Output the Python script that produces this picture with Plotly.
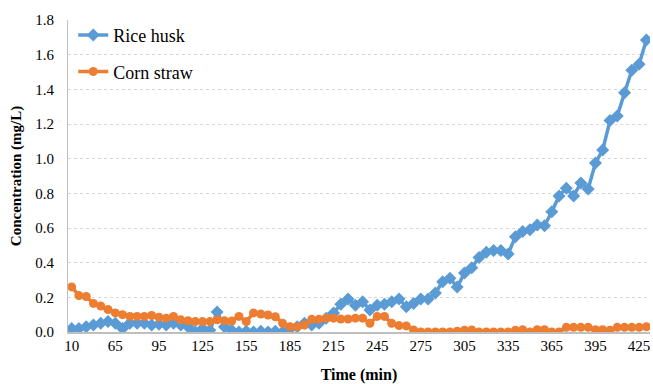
import plotly.graph_objects as go

# Sampling times (min); axis labels every sixth sample
time_min = [10, 20, 30, 40, 50, 60] + list(range(65, 431, 5))
tick_labels = ["10", "65", "95", "125", "155", "185", "215", "245",
               "275", "305", "335", "365", "395", "425"]

rice_husk = [
    0.02, 0.02, 0.03, 0.04, 0.05, 0.06, 0.05, 0.02, 0.05, 0.05,
    0.05, 0.04, 0.045, 0.04, 0.05, 0.04, 0.03, 0.0, 0.02, 0.01,
    0.115, 0.03, 0.01, 0.0, 0.005, 0.0, 0.005, 0.0, 0.005, 0.0,
    0.017, 0.03, 0.05, 0.04, 0.05, 0.08, 0.11, 0.16, 0.19, 0.155,
    0.175, 0.127, 0.155, 0.16, 0.175, 0.19, 0.146, 0.165, 0.19, 0.19,
    0.225, 0.29, 0.31, 0.26, 0.34, 0.37, 0.43, 0.46, 0.47, 0.47,
    0.45, 0.55, 0.58, 0.59, 0.617, 0.613, 0.694, 0.785, 0.83, 0.785,
    0.86, 0.825, 0.975, 1.05, 1.22, 1.246, 1.38, 1.51, 1.545, 1.685,
]

corn_straw = [
    0.26, 0.21, 0.205, 0.165, 0.15, 0.13, 0.11, 0.10, 0.09, 0.09,
    0.09, 0.095, 0.085, 0.08, 0.09, 0.07, 0.065, 0.06, 0.06, 0.06,
    0.07, 0.065, 0.063, 0.09, 0.06, 0.11, 0.104, 0.098, 0.088, 0.05,
    0.03, 0.03, 0.04, 0.073, 0.073, 0.08, 0.08, 0.075, 0.075, 0.08,
    0.08, 0.05, 0.09, 0.09, 0.05, 0.037, 0.035, 0.012, 0.0, 0.0,
    0.0, 0.0, 0.0, 0.005, 0.01, 0.012, 0.0, 0.0, 0.0, 0.0,
    0.0, 0.01, 0.013, 0.0, 0.013, 0.013, 0.0, 0.0, 0.027, 0.027,
    0.027, 0.027, 0.013, 0.013, 0.01, 0.027, 0.027, 0.027, 0.027, 0.03,
]

x_cat = [str(t) for t in time_min]

BLUE = "#5B9BD5"
ORANGE = "#ED7D31"
FONT = "Liberation Serif"

fig = go.Figure()
fig.add_trace(go.Scatter(
    x=x_cat, y=rice_husk, name="Rice husk", mode="lines+markers",
    line=dict(color=BLUE, width=3.5),
    marker=dict(symbol="diamond", size=10, color=BLUE),
    legendgroup="a",
))
fig.add_trace(go.Scatter(
    x=x_cat, y=corn_straw, name="Corn straw", mode="lines+markers",
    line=dict(color=ORANGE, width=3.5),
    marker=dict(symbol="circle", size=9, color=ORANGE),
    legendgroup="b",
))

fig.update_layout(
    width=653, height=384,
    margin=dict(l=68, r=3, t=20, b=52),
    paper_bgcolor="white", plot_bgcolor="white",
    font=dict(family=FONT, size=14, color="#000000"),
    showlegend=True,
    legend=dict(
        x=0.009, y=1.01, xanchor="left", yanchor="top",
        font=dict(family=FONT, size=18, color="#000000"),
        bgcolor="rgba(0,0,0,0)", tracegroupgap=10,
    ),
    xaxis=dict(
        type="category", range=[-0.5, 79.5],
        tickmode="array", tickvals=tick_labels, ticktext=tick_labels,
        showgrid=False, showline=True, linecolor="#BFBFBF", linewidth=1.5,
        ticks="", ticklabelstandoff=-1,
        tickfont=dict(family=FONT, size=15),
        title=dict(text="<b>Time (min)</b>", font=dict(family=FONT, size=16), standoff=17),
        zeroline=False,
    ),
    yaxis=dict(
        range=[0, 1.8], tickmode="linear", tick0=0, dtick=0.2, tickformat=".1f",
        showgrid=True, gridcolor="#D9D9D9", gridwidth=1, griddash="3px,3px",
        showline=True, linecolor="#BFBFBF", linewidth=1,
        ticks="", ticklabelstandoff=10,
        tickfont=dict(family=FONT, size=15),
        title=dict(text="<b>Concentration (mg/L)</b>", font=dict(family=FONT, size=15), standoff=10),
        zeroline=False,
    ),
)

fig.write_html("out.html")
